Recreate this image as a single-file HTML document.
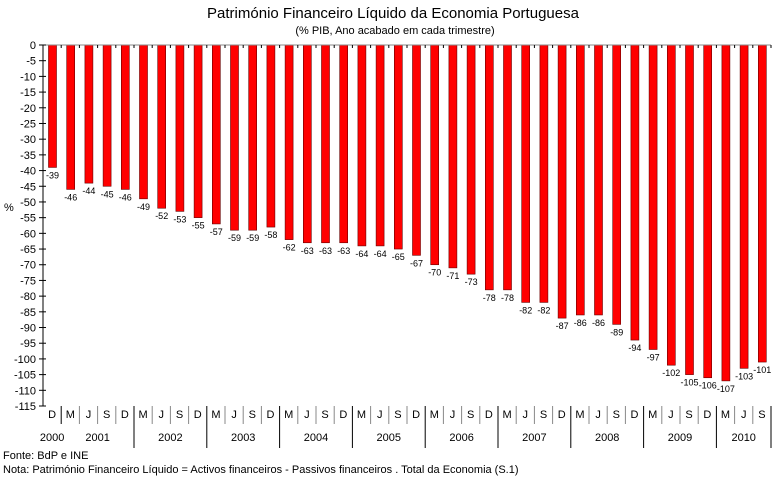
<!DOCTYPE html>
<html><head><meta charset="utf-8"><style>
body{margin:0;background:#fff;font-family:"Liberation Sans",sans-serif}
svg text{font-family:"Liberation Sans",sans-serif}
</style></head><body>
<svg id="chart" width="783" height="477" xmlns="http://www.w3.org/2000/svg">
<text x="393" y="18" font-size="15" text-anchor="middle" fill="#000">Património Financeiro Líquido da Economia Portuguesa</text>
<text x="395" y="34" font-size="11" text-anchor="middle" fill="#000">(% PIB, Ano acabado em cada trimestre)</text>
<text x="4" y="211" font-size="11" fill="#000">%</text>
<g id="grid"></g><g id="bars"></g><g id="axes"></g>
<text x="3" y="459" font-size="11" fill="#000">Fonte: BdP e INE</text>
<text x="3" y="473" font-size="11" fill="#000">Nota: Património Financeiro Líquido = Activos financeiros - Passivos financeiros . Total da Economia (S.1)</text>
</svg>
<script>
const quarters=["D","M","J","S","D","M","J","S","D","M","J","S","D","M","J","S","D","M","J","S","D","M","J","S","D","M","J","S","D","M","J","S","D","M","J","S","D","M","J","S"];
const values=[-39,-46,-44,-45,-46,-49,-52,-53,-55,-57,-59,-59,-58,-62,-63,-63,-63,-64,-64,-65,-67,-70,-71,-73,-78,-78,-82,-82,-87,-86,-86,-89,-94,-97,-102,-105,-106,-107,-103,-101];
const years=["2000","2001","2002","2003","2004","2005","2006","2007","2008","2009","2010"];
const yTicks=[0,-5,-10,-15,-20,-25,-30,-35,-40,-45,-50,-55,-60,-65,-70,-75,-80,-85,-90,-95,-100,-105,-110,-115];
const NS="http://www.w3.org/2000/svg";
const L=43,R=771,T=45,B=406,yMin=-115;
const cw=(R-L)/quarters.length;
const y=v=>T+(v/yMin)*(B-T);
const x=i=>L+cw*i;
function mk(tag,attrs,parent,txt){const e=document.createElementNS(NS,tag);for(const k in attrs)e.setAttribute(k,attrs[k]);if(txt!==undefined)e.textContent=txt;document.getElementById(parent).appendChild(e);return e;}
values.forEach((v,i)=>{
 const bx=x(i)+5.5;
 const r=mk('rect',{x:bx,y:y(0),width:8,height:y(v)-y(0),fill:'#ff0000',stroke:'#600',"stroke-width":0.6},'bars');
 
 
 const t=mk('text',{x:bx+4,y:y(v)+11,"font-size":9,"text-anchor":"middle",fill:'#000'},'bars',String(v));
 
 
});
mk('line',{x1:L,y1:T,x2:L,y2:B,stroke:'#000'},'axes');
mk('line',{x1:L,y1:T,x2:R,y2:T,stroke:'#888'},'axes');
yTicks.forEach(v=>{
 mk('line',{x1:L-4,y1:y(v),x2:L+3,y2:y(v),stroke:'#000'},'axes');
 const t=mk('text',{x:36,y:y(v)+4,"font-size":11,"text-anchor":"end",fill:'#000'},'axes',String(v));
 
 
});
for(let i=1;i<=quarters.length;i++){mk('line',{x1:x(i),y1:T,x2:x(i),y2:T+3,stroke:'#000'},'axes');}
quarters.forEach((q,i)=>{
 const t=mk('text',{x:x(i)+cw/2,y:418,"font-size":11,"text-anchor":"middle",fill:'#000'},'axes',q);
 
 
 if(i>0){const yearEdge=(quarters[i]==="M");mk('line',{x1:x(i),y1:B,x2:x(i),y2:yearEdge&&i>1?448:424,stroke:yearEdge?'#000':'#888'},'axes');}
});
mk('line',{x1:R,y1:B,x2:R,y2:448,stroke:'#000'},'axes');
years.forEach((yr,k)=>{
 let cx;
 if(k===0)cx=x(0)+cw/2;
 else{const s=1+(k-1)*4;const e=Math.min(s+3,quarters.length-1);cx=(x(s)+x(e+1))/2;}
 const t=mk('text',{x:cx,y:441,"font-size":11,"text-anchor":"middle",fill:'#000'},'axes',yr);
 
 
});
</script>
</body></html>
